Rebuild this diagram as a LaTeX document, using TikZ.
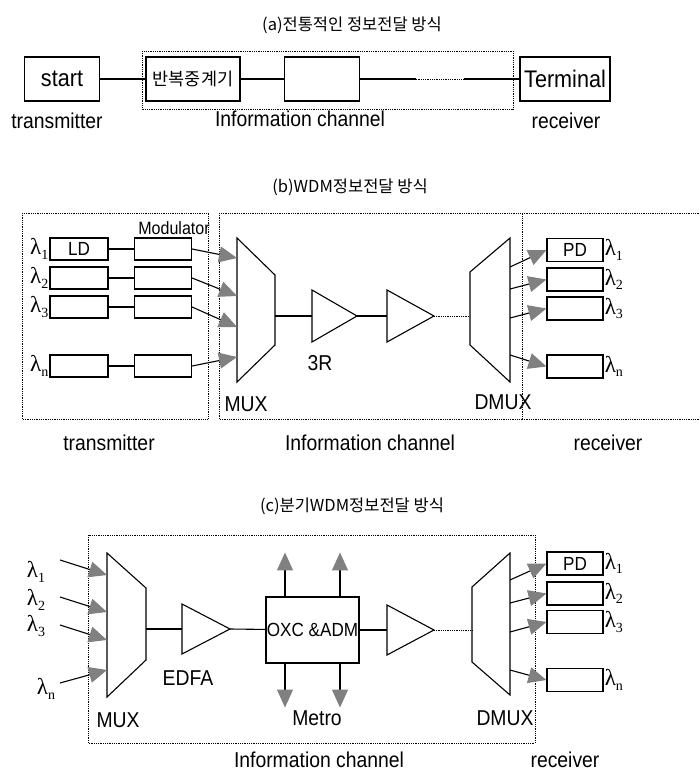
\documentclass[tikz,border=0pt]{standalone}
\usepackage{fontspec}
\setmainfont{Liberation Sans}[FakeStretch=0.9]
\newfontfamily\kr{Noto Sans CJK KR}
\newfontfamily\gk{Liberation Serif}
\newcommand\lamb[1]{{\gk λ\raisebox{-0.45ex}{\fontsize{14}{14}\selectfont #1}}}
\usepackage{tikz}
\usetikzlibrary{arrows.meta,positioning,calc}

\begin{document}
\begin{tikzpicture}[
  x=1pt, y=-1pt,
  B/.style={
    rectangle, draw, line width=1.1pt, inner sep=0pt,
    minimum height=22pt, minimum width=57pt,
    font=\fontsize{19}{19}\selectfont
  },
  BB/.style={B, minimum height=44pt, font=\fontsize{24}{24}\selectfont},
  T/.style={font=\kr\fontsize{16.5}{17}\selectfont, inner sep=0pt},
  L/.style={font=\fontsize{21.5}{22}\selectfont, inner sep=0pt},
  lam/.style={font=\fontsize{23}{23}\selectfont, inner sep=0pt},
  frm/.style={densely dotted, line width=0.8pt},
  ln/.style={line width=1.1pt},
  arr/.style={ln, -{Triangle[length=18pt, width=16pt, color=gray, fill=gray]}}
]
\useasboundingbox (0,0) rectangle (700,775);

% (a)
\node[T] (Ta) at (352,25) {(a)전통적인 정보전달 방식};
\draw[frm] (142,51) rectangle (513,109);
\node[BB, minimum width=75pt] (S)  at (62,79)  {start};
\node[BB, minimum width=94pt, font=\kr\fontsize{17.5}{18}\selectfont]
  (Rp) at (193,79) {반복중계기};
\node[BB, minimum width=75pt] (E)  at (322,79) {};
\node[BB, minimum width=90pt] (Tm) at (565,79) {Terminal};

\coordinate (a1) at ($(E.east)!0.35!(Tm.west)$);
\coordinate (a2) at ($(E.east)!0.65!(Tm.west)$);
\draw[ln] (S) -- (Rp);
\draw[ln] (Rp) -- (E);
\draw[ln] (E) -- (a1);
\draw[frm] (a1) -- (a2);
\draw[ln] (a2) -- (Tm);

\node[L] (Ltxa) at (57,121)  {transmitter};
\node[L] (Lcha) at (300,119) {Information channel};
\node[L] (Lrxa) at (566,121) {receiver};

% (b)
\node[T] (Tb) at (350,187) {(b)WDM정보전달 방식};
\draw[frm] (22,213) rectangle (208,419);
\draw[frm] (219,213) rectangle (522,419);
\draw[frm] (522,213) -- (699,213) (522,419) -- (699,419);

\node[B, minimum width=58pt] (LD1) at (79,249) {LD};
\node[B, minimum width=58pt] (LD2) at (79,278) {};
\node[B, minimum width=58pt] (LD3) at (79,307) {};
\node[B, minimum width=58pt] (LDn) at (79,366) {};
\node[B] (MD1) at (163,249) {};
\node[B] (MD2) at (163,278) {};
\node[B] (MD3) at (163,307) {};
\node[B] (MDn) at (163,366) {};
\node[font=\fontsize{17.8}{18}\selectfont, inner sep=0pt] (Mod) at (174,228) {Modulator};

\node[lam, left=1pt of LD1] (lb1) {\lamb{1}};
\node[lam, left=1pt of LD2] (lb2) {\lamb{2}};
\node[lam, left=1pt of LD3] (lb3) {\lamb{3}};
\node[lam, left=1pt of LDn] (lbn) {\lamb{n}};

\draw[ln] (LD1) -- (MD1);
\draw[ln] (LD2) -- (MD2);
\draw[ln] (LD3) -- (MD3);
\draw[ln] (LDn) -- (MDn);

% MUX / 3R / DMUX
\draw[ln] (237,238) -- (275,275) -- (275,345) -- (237,382) -- cycle;
\coordinate (Mb1) at (237,258);
\coordinate (Mb2) at (237,296);
\coordinate (Mb3) at (237,327);
\coordinate (Mbn) at (237,357);
\coordinate (Mbo) at (275,316);
\draw[arr] (MD1.east) -- (Mb1);
\draw[arr] (MD2.east) -- (Mb2);
\draw[arr] (MD3.east) -- (Mb3);
\draw[arr] (MDn.east) -- (Mbn);

\draw[ln] (312,290) -- (357,316) -- (312,342) -- cycle;
\draw[ln] (387,290) -- (434,316) -- (387,342) -- cycle;
\coordinate (A1i) at (312,316);
\coordinate (A1o) at (357,316);
\coordinate (A2i) at (387,316);
\coordinate (A2o) at (434,316);
\draw[ln] (Mbo) -- (A1i);
\draw[ln] (A1o) -- (A2i);

\draw[ln] (470,272) -- (510,238) -- (510,382) -- (470,345) -- cycle;
\coordinate (Db)  at (470,316);
\draw[frm] (A2o) -- (Db);

\node[B, minimum width=56pt, minimum height=23pt] (PD1) at (575,250)   {PD};
\node[B, minimum width=56pt, minimum height=23pt] (PD2) at (575,279.5) {};
\node[B, minimum width=56pt, minimum height=23pt] (PD3) at (575,308.5) {};
\node[B, minimum width=56pt, minimum height=23pt] (PDn) at (575,366.5) {};
\coordinate (Db1) at (510,267);
\coordinate (Db2) at (510,289);
\coordinate (Db3) at (510,318);
\coordinate (Dbn) at (510,355);
\draw[arr] (Db1) -- (PD1.west);
\draw[arr] (Db2) -- (PD2.west);
\draw[arr] (Db3) -- (PD3.west);
\draw[arr] (Dbn) -- (PDn.west);

\node[lam, right=1pt of PD1] (rb1) {\lamb{1}};
\node[lam, right=1pt of PD2] (rb2) {\lamb{2}};
\node[lam, right=1pt of PD3] (rb3) {\lamb{3}};
\node[lam, right=1pt of PDn] (rbn) {\lamb{n}};

\node[L] (L3R)  at (320,363) {3R};
\node[L] (LMb)  at (246,404) {MUX};
\node[L] (LDb)  at (503,402) {DMUX};
\node[L] (Ltxb) at (109,443) {transmitter};
\node[L] (Lchb) at (370,443) {Information channel};
\node[L] (Lrxb) at (608,443) {receiver};

% (c)
\node[T] (Tc) at (352,506) {(c)분기WDM정보전달 방식};
\draw[frm] (88,535) rectangle (535,743);

\node[lam] (lc1) at (36,572) {\lamb{1}};
\node[lam] (lc2) at (36,600) {\lamb{2}};
\node[lam] (lc3) at (36,626) {\lamb{3}};
\node[lam] (lcn) at (46,689) {\lamb{n}};
\coordinate (s1) at (60,560);
\coordinate (s2) at (60,597);
\coordinate (s3) at (60,625);
\coordinate (sn) at (60,683);

\draw[ln] (107,553) -- (146,588) -- (146,660) -- (107,697) -- cycle;
\coordinate (Mc1) at (107,575);
\coordinate (Mc2) at (107,612);
\coordinate (Mc3) at (107,640);
\coordinate (Mcn) at (107,670);
\coordinate (Mco) at (146,629);
\draw[arr] (s1) -- (Mc1);
\draw[arr] (s2) -- (Mc2);
\draw[arr] (s3) -- (Mc3);
\draw[arr] (sn) -- (Mcn);

\draw[ln] (182,604) -- (230,629) -- (182,654) -- cycle;
\coordinate (Ei) at (182,629);
\coordinate (Eo) at (230,629);
\draw[ln] (Mco) -- (Ei);

\node[B, minimum width=93pt, minimum height=66pt] (OX) at (312.5,630) {OXC \&ADM};
\draw[ln] (Eo) -- (OX);
\draw[arr] ([xshift=-27.5pt]OX.north) -- ++(0,-44);
\draw[arr] ([xshift=27.5pt]OX.north)  -- ++(0,-44);
\draw[arr] ([xshift=-27.5pt]OX.south) -- ++(0,44);
\draw[arr] ([xshift=27.5pt]OX.south)  -- ++(0,44);

\draw[ln] (387,605) -- (434,630) -- (387,655) -- cycle;
\coordinate (A3i) at (387,630);
\coordinate (A3o) at (434,630);
\draw[ln] (OX) -- (A3i);

\draw[ln] (472,587) -- (510,553) -- (510,695) -- (472,662) -- cycle;
\coordinate (Dc) at (472,630);
\draw[frm] (A3o) -- (Dc);

\node[B, minimum width=56pt, minimum height=23pt] (PC1) at (575,563.5) {PD};
\node[B, minimum width=56pt, minimum height=23pt] (PC2) at (575,593.5) {};
\node[B, minimum width=56pt, minimum height=23pt] (PC3) at (575,622)   {};
\node[B, minimum width=56pt, minimum height=23pt] (PCn) at (575,680)   {};
\coordinate (Dc1) at (510,580);
\coordinate (Dc2) at (510,603);
\coordinate (Dc3) at (510,632);
\coordinate (Dcn) at (510,670);
\draw[arr] (Dc1) -- (PC1.west);
\draw[arr] (Dc2) -- (PC2.west);
\draw[arr] (Dc3) -- (PC3.west);
\draw[arr] (Dcn) -- (PCn.west);

\node[lam, right=1pt of PC1] (rc1) {\lamb{1}};
\node[lam, right=1pt of PC2] (rc2) {\lamb{2}};
\node[lam, right=1pt of PC3] (rc3) {\lamb{3}};
\node[lam, right=1pt of PCn] (rcn) {\lamb{n}};

\node[L] (LE)   at (188,678) {EDFA};
\node[L] (LMe)  at (317,718) {Metro};
\node[L] (LMc)  at (118,720) {MUX};
\node[L] (LDc)  at (505,718) {DMUX};
\node[L] (Lchc) at (319,760) {Information channel};
\node[L] (Lrxc) at (565,760) {receiver};

\end{tikzpicture}
\end{document}
